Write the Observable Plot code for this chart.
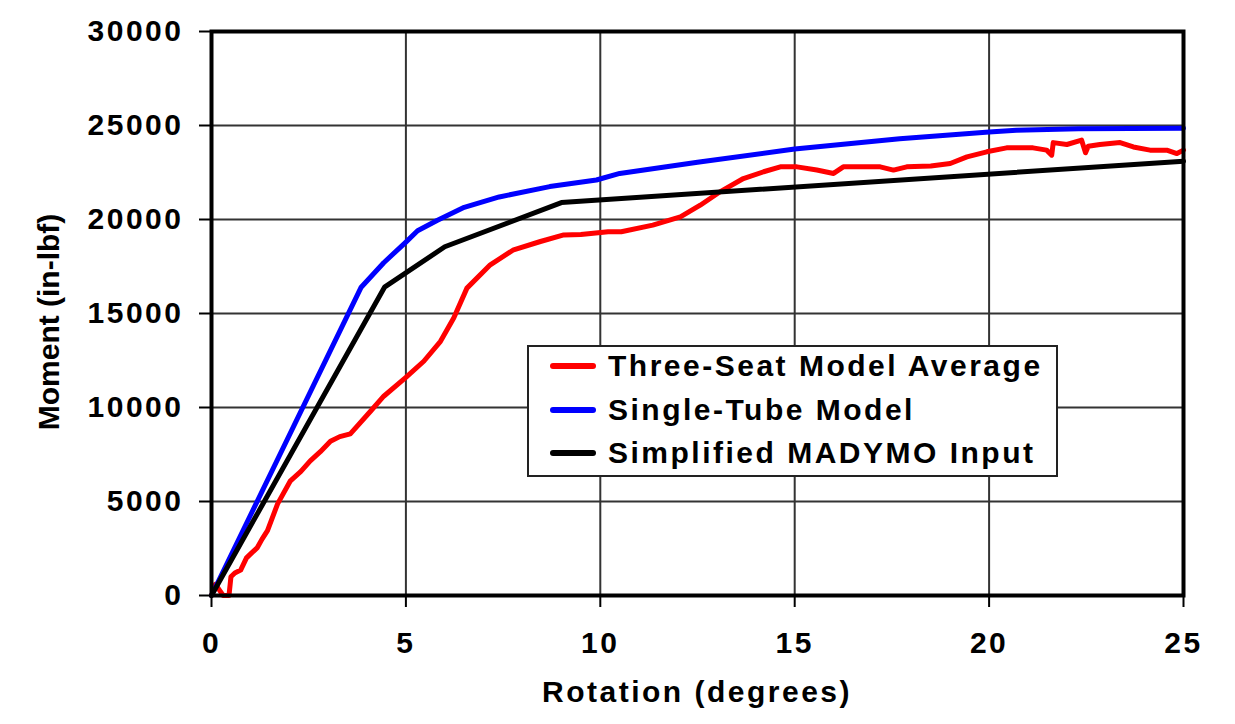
<!DOCTYPE html>
<html><head><meta charset="utf-8">
<script src="https://cdn.jsdelivr.net/npm/d3@7"></script>
<script src="https://cdn.jsdelivr.net/npm/@observablehq/plot@0.6"></script>
<style>
body{margin:0;background:#fff;}
#wrap{position:relative;width:1235px;height:724px;overflow:hidden;font-family:"Liberation Sans",Arial,sans-serif;font-weight:bold;color:#000;}
#edge{position:absolute;left:6px;top:4px;width:2px;height:720px;background:#d0d0d0;}
#legend{position:absolute;left:527px;top:345px;width:527px;height:128px;border:2px solid #222;background:#fff;}
.row{position:absolute;left:0;height:40px;display:flex;align-items:center;font-size:30px;letter-spacing:2.5px;}
.sw{display:inline-block;width:46px;height:6px;border-radius:3px;margin-left:21px;margin-right:12px;}
</style></head><body>
<div id="wrap"><div id="edge"></div></div>
<script>
// ---- data ----
const seriesNames = ["Three-Seat Model Average", "Single-Tube Model", "Simplified MADYMO Input"];
const seriesColors = ["#ff0000", "#0000ff", "#000000"];

const threeSeatX = [0,0.1,0.2,0.3,0.45,0.5,0.6,0.75,0.9,1.0,1.18,1.3,1.44,1.7,2.03,2.3,2.54,2.8,3.06,3.3,3.57,4.09,4.43,5.0,5.46,5.89,6.23,6.57,7.17,7.77,8.46,9.06,9.5,10.2,10.54,11.35,12.06,12.57,13.1,13.68,14.2,14.63,15.06,15.57,16.0,16.25,16.77,17.2,17.54,17.88,18.5,19.0,19.43,19.94,20.45,21.13,21.48,21.61,21.65,22.0,22.38,22.48,22.55,22.85,23.37,23.71,24.14,24.57,24.83,25];
const threeSeatY = [0,600,300,0,0,1000,1200,1350,2000,2200,2550,3000,3450,4875,6100,6600,7160,7650,8200,8450,8600,9800,10600,11600,12460,13520,14760,16350,17590,18390,18830,19180,19200,19350,19350,19700,20140,20760,21500,22180,22540,22800,22800,22630,22450,22800,22800,22800,22630,22800,22850,22980,23330,23600,23810,23810,23690,23420,24090,23990,24220,23550,23900,23990,24090,23860,23690,23690,23510,23690];

const singleTubeX = [0,3.85,4.43,5.0,5.3,5.8,6.5,7.4,8.7,9.9,10.5,12.5,15.0,17.7,20.0,20.7,22.3,25];
const singleTubeY = [0,16400,17700,18800,19400,19950,20650,21200,21750,22100,22450,23050,23750,24300,24650,24750,24830,24850];

const madymoX = [0,4.45,6.0,9.0,25];
const madymoY = [0,16400,18550,20900,23100];

const xTicks = [0,5,10,15,20,25];
const yTicks = [0,5000,10000,15000,20000,25000,30000];
const xTitle = "Rotation (degrees)";
const yTitle = "Moment (in-lbf)";

// ---- build table ----
const rows = [];
[[threeSeatX, threeSeatY], [singleTubeX, singleTubeY], [madymoX, madymoY]].forEach(([xs, ys], i) => {
  xs.forEach((x, j) => rows.push({series: seriesNames[i], x, y: ys[j]}));
});

const chart = Plot.plot({
  width: 1235, height: 724,
  marginLeft: 211, marginRight: 52, marginTop: 31, marginBottom: 129,
  style: {fontFamily: '"Liberation Sans", Arial, sans-serif', fontSize: "30px", fontWeight: "bold", color: "#000", letterSpacing: "2.5px", background: "#fff", overflow: "visible"},
  x: {domain: [0, 25]},
  y: {domain: [0, 30000]},
  color: {domain: seriesNames, range: seriesColors},
  marks: [
    Plot.gridX(xTicks, {stroke: "#333", strokeOpacity: 1, strokeWidth: 2}),
    Plot.gridY(yTicks, {stroke: "#333", strokeOpacity: 1, strokeWidth: 2}),
    Plot.line(rows, {x: "x", y: "y", z: "series", stroke: "series", strokeWidth: 5, strokeLinejoin: "round", strokeLinecap: "round"}),
    Plot.frame({stroke: "#000", strokeWidth: 4}),
    Plot.axisX(xTicks, {tickSize: 12, tickPadding: 24, strokeWidth: 2, label: null, tickFormat: d3.format("d")}),
    Plot.axisY(yTicks, {tickSize: 12, tickPadding: 16, strokeWidth: 2, label: null, tickFormat: d3.format("d")})
  ]
});
const wrap = document.getElementById("wrap");
wrap.appendChild(chart);
chart.style.position = "absolute"; chart.style.left = "0"; chart.style.top = "0";

// axis titles
const svg = d3.select(chart);
svg.append("text").attr("x", 697).attr("y", 702).attr("text-anchor", "middle")
  .style("font-size", "30px").style("font-weight", "bold").style("letter-spacing", "2.5px").attr("fill", "#000").text(xTitle);
svg.append("text").attr("transform", "translate(59,322) rotate(-90)").attr("text-anchor", "middle")
  .style("font-size", "30px").style("font-weight", "bold").style("letter-spacing", "0px").attr("fill", "#000").text(yTitle);

// legend
const lg = document.createElement("div");
lg.id = "legend";
seriesNames.forEach((n, i) => {
  const r = document.createElement("div");
  r.className = "row";
  r.style.top = (-1 + i * 43.5) + "px";
  const sw = document.createElement("span");
  sw.className = "sw"; sw.style.background = seriesColors[i];
  r.appendChild(sw);
  r.appendChild(document.createTextNode(n));
  lg.appendChild(r);
});
wrap.appendChild(lg);
</script>
</body></html>
